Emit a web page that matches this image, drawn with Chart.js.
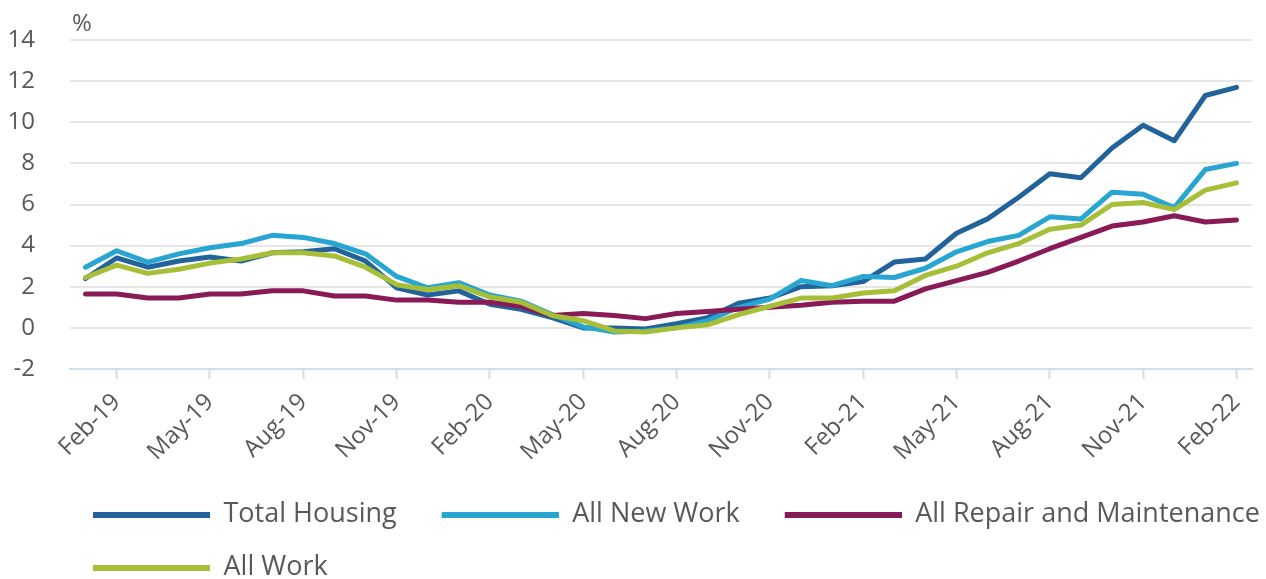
<!DOCTYPE html>
<html>
<head>
<meta charset="utf-8">
<title>Housing output price index</title>
<script src="https://cdn.jsdelivr.net/npm/chart.js@4.4.1/dist/chart.umd.min.js"></script>
<style>
  html, body { margin: 0; padding: 0; background: #fff; }
  #wrap { width: 1266px; height: 579px; position: relative; }
</style>
</head>
<body>
<div id="wrap"><canvas id="housingChart"></canvas></div>
<script>
// monthly, Jan-19 .. Feb-22
const months = [
  'Jan-19', 'Feb-19', 'Mar-19', 'Apr-19', 'May-19', 'Jun-19', 'Jul-19', 'Aug-19', 'Sep-19', 'Oct-19', 'Nov-19', 'Dec-19',
  'Jan-20', 'Feb-20', 'Mar-20', 'Apr-20', 'May-20', 'Jun-20', 'Jul-20', 'Aug-20', 'Sep-20', 'Oct-20', 'Nov-20', 'Dec-20',
  'Jan-21', 'Feb-21', 'Mar-21', 'Apr-21', 'May-21', 'Jun-21', 'Jul-21', 'Aug-21', 'Sep-21', 'Oct-21', 'Nov-21', 'Dec-21',
  'Jan-22', 'Feb-22'
];

const totalHousing = [2.4, 3.4, 2.95, 3.25, 3.45, 3.25, 3.65, 3.7, 3.85, 3.25, 1.95, 1.6,
  1.8, 1.15, 0.9, 0.5, 0.0, 0.0, -0.05, 0.2, 0.5, 1.2, 1.45, 2.0,
  2.05, 2.25, 3.2, 3.35, 4.6, 5.3, 6.35, 7.5, 7.3, 8.75, 9.85, 9.1,
  11.3, 11.7];

const allNewWork = [2.95, 3.75, 3.2, 3.6, 3.9, 4.1, 4.5, 4.4, 4.1, 3.6, 2.5, 1.95,
  2.2, 1.6, 1.3, 0.65, 0.05, -0.2, -0.15, 0.0, 0.35, 1.0, 1.4, 2.3,
  2.05, 2.5, 2.45, 2.9, 3.7, 4.2, 4.5, 5.4, 5.3, 6.6, 6.5, 5.85,
  7.7, 8.0];

const allRepair = [1.65, 1.65, 1.45, 1.45, 1.65, 1.65, 1.8, 1.8, 1.55, 1.55, 1.35, 1.35,
  1.25, 1.25, 1.05, 0.6, 0.7, 0.6, 0.45, 0.7, 0.8, 0.9, 1.0, 1.1,
  1.25, 1.3, 1.3, 1.9, 2.3, 2.7, 3.25, 3.85, 4.4, 4.95, 5.15, 5.45,
  5.15, 5.25];

const allWork = [2.45, 3.05, 2.65, 2.85, 3.15, 3.35, 3.65, 3.65, 3.5, 2.95, 2.1, 1.85,
  2.05, 1.5, 1.25, 0.6, 0.35, -0.15, -0.2, 0.0, 0.15, 0.65, 1.05, 1.45,
  1.45, 1.7, 1.8, 2.55, 3.0, 3.65, 4.1, 4.8, 5.0, 6.0, 6.1, 5.75,
  6.7, 7.05];

const textColor = '#595959';
const axisColor = '#d2dcef';

Chart.defaults.font.family = '"Open Sans", sans-serif';

// legend swatch: a flat bar with a bit of blank space in front of it
function legendSwatch(color) {
  const c = document.createElement('canvas');
  c.width = 136;
  c.height = 6;
  const g = c.getContext('2d');
  g.fillStyle = color;
  g.fillRect(19, 0, 117, 6);
  return c;
}

function series(label, data, color, order) {
  return {
    label,
    data,
    borderColor: color,
    backgroundColor: color,
    pointStyle: legendSwatch(color),
    order,
  };
}

const percentLabel = {
  id: 'percentLabel',
  afterDraw(chart) {
    const { ctx, chartArea } = chart;
    ctx.save();
    ctx.font = '24px "Open Sans"';
    ctx.fillStyle = textColor;
    ctx.textBaseline = 'alphabetic';
    ctx.fillText('%', chartArea.left + 2, chartArea.top - 9);
    ctx.restore();
  },
};

// legend sits further right than the y axis labels
const legendShift = {
  id: 'legendShift',
  afterLayout(chart) {
    chart.legend.left += 40;
    chart.legend.right += 80;
  },
};

const ctx = document.getElementById('housingChart').getContext('2d');

const housingChart = new Chart(ctx, {
  type: 'line',
  data: {
    labels: months,
    datasets: [
      series('Total Housing', totalHousing, '#21639a', 3),
      series('All New Work', allNewWork, '#28a5d1', 2),
      series('All Repair and Maintenance', allRepair, '#881a57', 1),
      series('All Work', allWork, '#a7bf38', 0),
    ],
  },
  options: {
    responsive: true,
    maintainAspectRatio: false,
    animation: false,
    layout: {
      padding: { left: 8, right: 14, top: 40, bottom: -12 },
    },
    elements: {
      point: { radius: 0, hoverRadius: 0 },
      line: { borderWidth: 5, tension: 0, borderCapStyle: 'round', borderJoinStyle: 'round' },
    },
    plugins: {
      legend: {
        position: 'bottom',
        align: 'start',
        labels: {
          usePointStyle: true,
          pointStyleWidth: 136,
          padding: 26,
          color: textColor,
          font: { size: 27 },
          sort: (a, b) => a.datasetIndex - b.datasetIndex,
        },
      },
      tooltip: { enabled: false },
    },
    scales: {
      x: {
        offset: true,
        grid: {
          offset: false,
          drawOnChartArea: false,
          tickLength: 10,
          tickWidth: 2,
          tickColor: c => (c.index % 3 === 1 ? axisColor : 'rgba(0,0,0,0)'),
        },
        border: { color: axisColor, width: 2 },
        ticks: {
          autoSkip: false,
          minRotation: 45,
          maxRotation: 45,
          padding: 9,
          color: textColor,
          font: { size: 24 },
          callback: (value, index) => (index % 3 === 1 ? months[index] : ''),
        },
        afterFit: scale => { scale.height = 106; },
      },
      y: {
        min: -2,
        max: 14,
        ticks: { stepSize: 2, padding: 10, color: textColor, font: { size: 24 } },
        grid: {
          color: c => (c.tick.value === -2 ? 'rgba(0,0,0,0)' : '#e6e6e6'),
          lineWidth: 2,
          tickLength: 25,
          tickColor: 'rgba(0,0,0,0)',
        },
        border: { display: false },
        afterFit: scale => { scale.width = 62; },
      },
    },
  },
  plugins: [percentLabel, legendShift],
});
</script>
</body>
</html>
